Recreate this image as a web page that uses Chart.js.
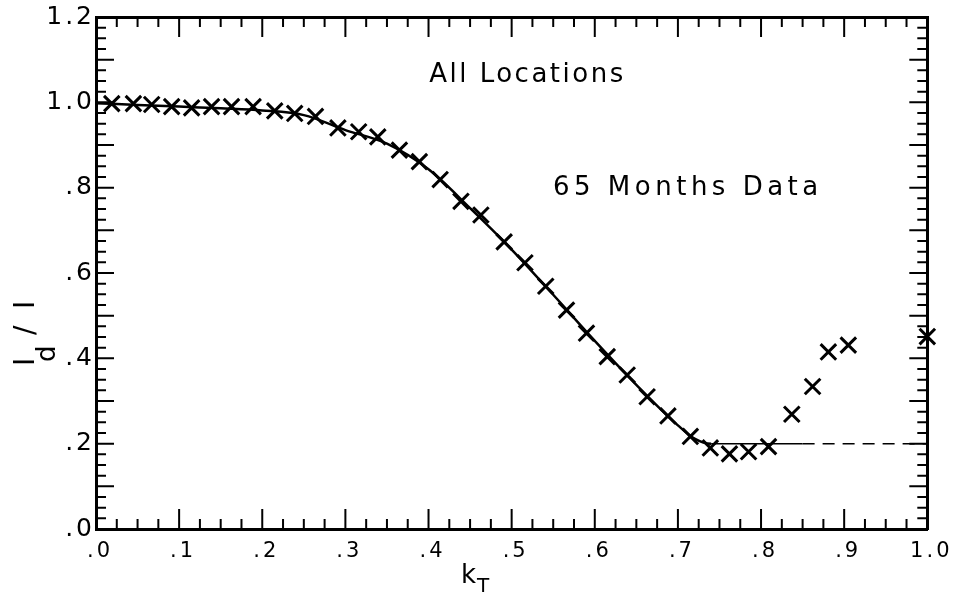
<!DOCTYPE html>
<html><head><meta charset="utf-8">
<script src="https://cdn.jsdelivr.net/npm/chart.js@4/dist/chart.umd.min.js"></script>
<style>html,body{margin:0;padding:0;background:#fff}canvas{display:block}</style>
</head><body>
<canvas id="c" width="954" height="595"></canvas>
<script>
// ---- data ----
const kT = [0.019,0.045,0.067,0.091,0.115,0.139,0.163,0.189,0.215,0.239,0.264,0.291,0.316,0.339,0.365,0.389,0.414,0.439,0.463,0.491,0.516,0.541,0.566,0.590,0.615,0.639,0.663,0.688,0.715,0.739,0.762,0.785,0.809,0.837,0.862,0.881,0.905,1.0];
const ratio = [0.997,0.997,0.995,0.990,0.987,0.990,0.990,0.990,0.980,0.974,0.967,0.940,0.931,0.919,0.888,0.861,0.819,0.768,0.736,0.673,0.624,0.569,0.513,0.459,0.404,0.361,0.310,0.265,0.217,0.190,0.176,0.181,0.193,0.269,0.334,0.415,0.431,0.451];
const curveKT    = [0.0,0.05,0.1,0.15,0.2,0.25,0.3,0.35,0.4,0.45,0.5,0.55,0.6,0.65,0.7,0.72,0.74,0.8,0.85,0.9,1.0];
const curveRatio = [0.998,0.994,0.99,0.986,0.981,0.970,0.935,0.903,0.843,0.752,0.655,0.549,0.441,0.338,0.243,0.212,0.200,0.200,0.200,0.200,0.200];
const xTickLabels = ['.0','.1','.2','.3','.4','.5','.6','.7','.8','.9','1.0'];
const yTickLabels = ['.0','.2','.4','.6','.8','1.0','1.2'];
const noteTexts = ['All Locations','65 Months Data'];

// ---- styling / placement ----
const FONT = '"DejaVu Sans", sans-serif';
const notePos = [{x:0.519,y:1.064},{x:0.712,y:0.799}];
const noteSpacing = ['2.5px','4.5px'];

const framePlugin = {
  id: 'frame',
  beforeDraw(chart){ chart.ctx.letterSpacing = '3px'; },
  afterDatasetsDraw(chart){
    const {ctx, chartArea:a, scales} = chart;
    const xs = scales.x, ys = scales.y;
    ctx.save();
    ctx.letterSpacing = '0px';
    ctx.strokeStyle = '#000';
    ctx.lineWidth = 2;
    ctx.beginPath();
    for (let i = 0; i <= 40; i++) {
      const px = xs.getPixelForValue(i * 0.025);
      const len = (i % 4 === 0) ? 20 : 10;
      ctx.moveTo(px, a.bottom); ctx.lineTo(px, a.bottom - len);
      ctx.moveTo(px, a.top); ctx.lineTo(px, a.top + len);
    }
    for (let i = 0; i <= 48; i++) {
      const py = ys.getPixelForValue(i * 0.025);
      const len = (i % 4 === 0) ? 18 : 10;
      ctx.moveTo(a.left, py); ctx.lineTo(a.left + len, py);
      ctx.moveTo(a.right, py); ctx.lineTo(a.right - len, py);
    }
    ctx.stroke();

    // annotations
    ctx.fillStyle = '#000';
    ctx.textAlign = 'center';
    ctx.textBaseline = 'middle';
    ctx.font = '26px ' + FONT;
    noteTexts.forEach((t, i) => {
      ctx.letterSpacing = noteSpacing[i];
      ctx.fillText(t, xs.getPixelForValue(notePos[i].x), ys.getPixelForValue(notePos[i].y));
    });

    // x axis title k_T
    ctx.letterSpacing = '0px';
    ctx.textAlign = 'left';
    ctx.textBaseline = 'alphabetic';
    ctx.font = '26px ' + FONT;
    ctx.fillText('k', 461, 583);
    ctx.font = '20px ' + FONT;
    ctx.fillText('T', 477, 592);

    // y axis title I_d / I (rotated)
    ctx.translate(34, 366);
    ctx.rotate(-Math.PI / 2);
    ctx.font = '28px ' + FONT;
    ctx.fillText('I', 0, 0);
    ctx.font = '26px ' + FONT;
    ctx.fillText('d', 4, 21);
    ctx.font = '28px ' + FONT;
    ctx.fillText('/', 31, 0);
    ctx.fillText('I', 57, 0);
    ctx.restore();
  }
};

const border = {display:true, width:3, color:'#000'};
new Chart(document.getElementById('c'), {
  type: 'scatter',
  data: {
    datasets: [
      {
        data: kT.map((x, i) => ({x, y: ratio[i]})),
        showLine: false,
        pointStyle: 'crossRot',
        pointRadius: 11,
        pointBorderWidth: 3,
        borderColor: '#000',
        backgroundColor: '#000',
        clip: false
      },
      {
        data: curveKT.map((x, i) => ({x, y: curveRatio[i]})),
        showLine: true,
        pointRadius: 0,
        borderColor: '#000',
        borderWidth: 2.5,
        cubicInterpolationMode: 'monotone',
        segment: {
          borderDash: c => c.p0.parsed.x >= 0.85 ? [12, 8] : undefined,
          borderWidth: c => c.p0.parsed.x >= 0.74 ? 1.5 : 2.5
        }
      }
    ]
  },
  options: {
    responsive: false,
    animation: false,
    layout: {padding: 0},
    plugins: {legend: {display: false}, tooltip: {enabled: false}},
    scales: {
      x: {
        type: 'linear', position: 'bottom', min: 0, max: 1,
        grid: {display: false, drawTicks: false},
        border,
        ticks: {stepSize: 0.1, autoSkip: false, maxRotation: 0, padding: 10, labelOffset: 4, color: '#000',
          font: {family: FONT, size: 21}, callback: (v, i) => xTickLabels[i]},
        afterFit: s => { s.height = 66; }
      },
      x2: {
        type: 'linear', position: 'top', min: 0, max: 1,
        grid: {display: false, drawTicks: false}, border,
        ticks: {display: false},
        afterFit: s => { s.height = 17; }
      },
      y: {
        type: 'linear', position: 'left', min: 0, max: 1.2,
        grid: {display: false, drawTicks: false}, border,
        ticks: {stepSize: 0.2, autoSkip: false, padding: 1, color: '#000',
          font: {family: FONT, size: 25}, callback: (v, i) => yTickLabels[i]},
        afterFit: s => { s.width = 96; }
      },
      y2: {
        type: 'linear', position: 'right', min: 0, max: 1.2,
        grid: {display: false, drawTicks: false}, border,
        ticks: {display: false},
        afterFit: s => { s.width = 22; }
      }
    }
  },
  plugins: [framePlugin]
});
</script>
</body></html>
